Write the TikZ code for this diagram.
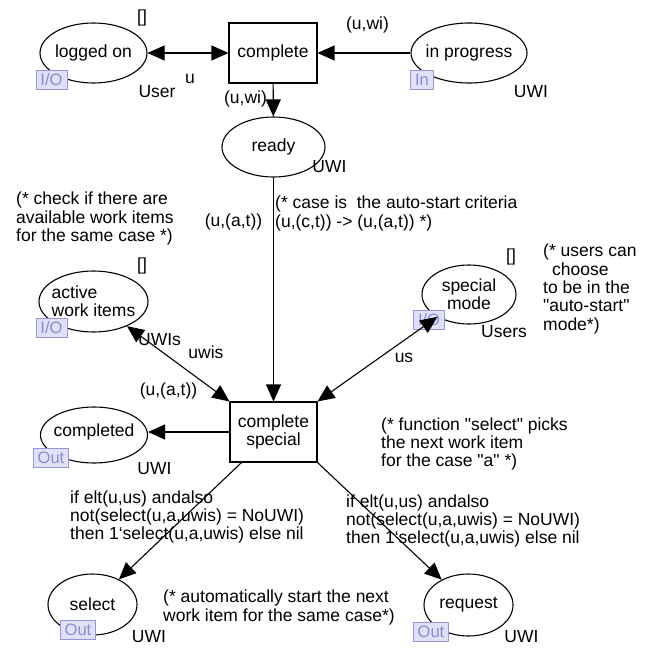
\documentclass[tikz,border=0pt]{standalone}
\usepackage{fontspec}
\setmainfont{Liberation Sans}[Ligatures=TeXOff]
\usetikzlibrary{shapes.geometric,arrows.meta}
\definecolor{tagfill}{RGB}{224,224,248}
\definecolor{tagline}{RGB}{150,150,220}
\definecolor{tagtext}{RGB}{140,140,205}
\begin{document}
\begin{tikzpicture}[x=1pt,y=-1pt,
  lbl/.style={font=\fontsize{17.5}{18.3}\selectfont, inner sep=0pt},
  place/.style={ellipse, draw, line width=1.1pt, inner sep=0pt},
  placetext/.style={lbl, align=center},
  trans/.style={rectangle, draw, line width=1.1pt, minimum width=87pt, minimum height=60pt, lbl, align=center},
  tag/.style={draw=tagline, fill=tagfill, text=tagtext, font=\fontsize{16.5}{17}\selectfont, line width=0.8pt, minimum height=19pt, inner xsep=4.5pt, inner ysep=0pt},
  tip/.tip={Triangle[length=17pt,width=15pt]},
  arc/.style={line width=1.1pt, -tip},
  biarc/.style={line width=1.1pt, tip-tip},
  note/.style={lbl, align=left, anchor=west},
]
\useasboundingbox (0,0) rectangle (650,648);

% places
\node[place, minimum width=107pt, minimum height=60pt] (lo) at (93.5,53) {};
\node[placetext] at (lo) {logged on};
\node[place, minimum width=116pt, minimum height=60pt] (ip) at (469,53) {};
\node[placetext] at (ip) {in progress};
\node[place, minimum width=103pt, minimum height=60pt] (rd) at (273.5,147) {};
\node[placetext] at (rd) {ready};
\node[place, minimum width=109pt, minimum height=61pt] (awi) at (93.5,301.5) {};
\node[lbl, align=left] at (awi) {active\\work items};
\node[place, minimum width=94pt, minimum height=59pt] (sm) at (469,294.5) {};
\node[placetext] at (sm) {special\\mode};
\node[place, minimum width=107pt, minimum height=56pt] (cd) at (94,435) {};
\node[placetext] at (94,432) {completed};
\node[place, minimum width=89pt, minimum height=61pt] (sel) at (92.5,604.5) {};
\node[placetext] at (sel) {select};
\node[place, minimum width=89pt, minimum height=62pt] (req) at (468.5,605) {};
\node[placetext] at (req) {request};

% transitions
\node[trans, minimum width=88pt] (cp) at (273,53) {complete};
\node[trans] (csp) at (273.5,432) {complete\\special};

% port tags
\node[tag] (loT) at (51.5,79.5) {I/O};
\node[tag] (ipT) at (422,79.5) {In};
\node[tag] (awiT) at (51.5,327.5) {I/O};
\node[tag] (smT) at (429,320) {I/O};
\node[tag] (cdT) at (51,457.5) {Out};
\node[tag] (selT) at (78,629.5) {Out};
\node[tag] (reqT) at (431,631.5) {Out};

% arcs
\draw[biarc] (lo) -- (cp);
\draw[arc] (ip) -- (cp);
\draw[arc] (cp) -- (rd);
\draw[arc] (rd) -- (csp);
\draw[biarc] (awi) -- (csp.north west);
\draw[biarc] (sm) -- (csp.north east);
\draw[arc] (csp.west) -- (csp.west -| cd.east);
\draw[arc] ([xshift=12pt]csp.south west) -- (sel);
\draw[arc] (csp.south east) -- (req);

% colour sets, initial markings and arc inscriptions
\node[lbl] (m1) at (142,18) {[]};
\node[lbl] (i1) at (190,79) {u};
\node[lbl] (c1) at (157,92) {User};
\node[lbl] (i2) at (245.5,99) {(u,wi)};
\node[lbl] (i3) at (367.5,25) {(u,wi)};
\node[lbl] (c2) at (531,92) {UWI};
\node[lbl] (c3) at (329.5,167) {UWI};
\node[lbl] (i4) at (233.5,222) {(u,(a,t))};
\node[lbl] (m2) at (142,266) {[]};
\node[lbl] (c4) at (159.5,340) {UWIs};
\node[lbl] (i5) at (206,352) {uwis};
\node[lbl] (i6) at (168.5,391) {(u,(a,t))};
\node[lbl] (m3) at (511,257) {[]};
\node[lbl] (c5) at (504,332) {Users};
\node[lbl] (i7) at (404,358) {us};
\node[lbl] (c6) at (154.5,469) {UWI};
\node[lbl] (c7) at (149,637) {UWI};
\node[lbl] (c8) at (521.5,637) {UWI};

\node[note] (i8) at (70,517) {if elt(u,us) andalso\\not(select(u,a,uwis) = NoUWI)\\then 1‘select(u,a,uwis) else nil};
\node[note] (i9) at (346,521) {if elt(u,us) andalso\\not(select(u,a,uwis) = NoUWI)\\then 1‘select(u,a,uwis) else nil};

% comments
\node[note] (k1) at (16,218.5) {(* check if there are\\available work items\\for the same case *)};
\node[note] (k2) at (275,213.5) {(* case is\ \ the auto-start criteria\\(u,(c,t)) -> (u,(a,t)) *)};
\node[note] (k3) at (543,289) {(* users can\\\hspace*{9pt}choose\\to be in the\\"auto-start"\\mode*)};
\node[note] (k4) at (381,444) {(* function "select" picks\\the next work item\\for the case "a" *)};
\node[note] (k5) at (163,607.5) {(* automatically start the next\\work item for the same case*)};
\end{tikzpicture}
\end{document}
